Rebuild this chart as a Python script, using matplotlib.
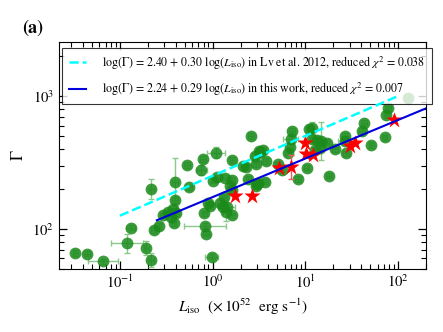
import numpy as np
import matplotlib
matplotlib.use("Agg")
import matplotlib.pyplot as plt
from matplotlib.ticker import LogLocator, NullFormatter

plt.rcParams['font.family'] = ['STIXGeneral', 'DejaVu Serif']
plt.rcParams['mathtext.fontset'] = 'stix'

# Lv et al. 2012 sample (green): L_iso [1e52 erg/s], Gamma
L_lv = [0.033, 0.044, 0.066, 0.119, 0.130, 0.193, 0.216, 0.218, 0.231, 0.261,
        0.289, 0.330, 0.373, 0.395, 0.395, 0.379, 0.355, 0.528, 0.559, 0.751,
        0.785, 0.816, 0.830, 0.851, 0.888, 0.940, 0.98, 1.08, 1.02, 1.20,
        1.29, 1.34, 1.11, 1.39, 1.63, 1.61, 1.61, 1.61, 1.36, 2.59,
        2.29, 2.43, 2.86, 2.99, 3.19, 2.14, 2.94, 3.24, 3.52, 3.73,
        2.94, 3.11, 3.67, 1.42, 5.02, 5.55, 6.93, 7.21, 6.81, 6.53,
        8.37, 10.3, 11.0, 11.7, 11.9, 13.2, 14.6, 16.9, 14.3, 12.7,
        20.8, 18.0, 26.6, 27.3, 27.0, 42.6, 40.8, 51.5, 71.6, 77.6,
        74.6, 127.0, 0.40, 1.52]
G_lv = [66, 65, 57, 78, 102, 72, 58.5, 200, 98, 105,
        127, 135, 141, 227, 165, 110, 122, 303, 206, 278,
        336, 131, 106, 92, 158, 149, 62, 375, 231, 158,
        147, 173, 245, 135, 330, 233, 196, 127, 243, 500,
        291, 237, 354, 218, 388, 298, 306, 381, 393, 324,
        210, 223, 227, 147, 306, 278, 475, 549, 416, 375,
        237, 289, 562, 572, 472, 467, 459, 446, 404, 393,
        397, 252, 500, 371, 459, 630, 548, 428, 489, 809,
        719, 971, 132, 212]
# error bars in dex
xe_lv = [0.03, 0.03, 0.16, 0.17, 0.05, 0.03, 0.03, 0.03, 0.03, 0.03,
         0.03, 0.03, 0.03, 0.03, 0.03, 0.03, 0.03, 0.03, 0.03, 0.06,
         0.03, 0.03, 0.23, 0.03, 0.03, 0.03, 0.07, 0.10, 0.03, 0.03,
         0.03, 0.03, 0.03, 0.03, 0.03, 0.03, 0.03, 0.03, 0.03, 0.03,
         0.03, 0.03, 0.03, 0.03, 0.03, 0.03, 0.03, 0.03, 0.03, 0.03,
         0.03, 0.03, 0.03, 0.09, 0.03, 0.03, 0.08, 0.03, 0.03, 0.03,
         0.03, 0.03, 0.03, 0.03, 0.03, 0.03, 0.03, 0.03, 0.03, 0.03,
         0.03, 0.03, 0.03, 0.03, 0.08, 0.03, 0.03, 0.03, 0.03, 0.03,
         0.03, 0.03, 0.03, 0.03]
ye_lv = [0.02, 0.02, 0.02, 0.07, 0.02, 0.05, 0.05, 0.075, 0.02, 0.02,
         0.02, 0.02, 0.02, 0.18, 0.02, 0.02, 0.02, 0.02, 0.02, 0.04,
         0.02, 0.02, 0.02, 0.02, 0.02, 0.02, 0.02, 0.04, 0.02, 0.02,
         0.02, 0.02, 0.02, 0.07, 0.02, 0.02, 0.02, 0.02, 0.02, 0.02,
         0.02, 0.02, 0.02, 0.02, 0.02, 0.02, 0.02, 0.02, 0.02, 0.02,
         0.02, 0.02, 0.02, 0.02, 0.02, 0.02, 0.02, 0.02, 0.02, 0.02,
         0.02, 0.02, 0.02, 0.05, 0.02, 0.02, 0.14, 0.02, 0.02, 0.02,
         0.02, 0.02, 0.02, 0.02, 0.02, 0.02, 0.02, 0.02, 0.02, 0.02,
         0.02, 0.02, 0.02, 0.02]

# this work (red stars)
L_tw = [1.72, 2.63, 5.19, 6.93, 9.88, 10.1, 12.2, 30.1, 34.1, 89.5]
G_tw = [177, 177, 286, 291, 446, 366, 360, 423, 446, 661]
ye_tw = [0.0, 0.0, 0.0, 0.09, 0.0, 0.0, 0.0, 0.0, 0.0, 0.0]

# fits: log(G) = a + b log(L), drawn between x0 and x1
fit_lv = (2.40, 0.30, 0.1, 100.0)
fit_tw = (2.24, 0.29, 0.25, 200.0)


def dex_err(v, e):
    v = np.asarray(v, float)
    e = np.asarray(e, float)
    return [v - v / 10**e, v * 10**e - v]


fig = plt.figure(figsize=(4.43, 3.32), dpi=100)
ax = fig.add_axes([0.1332, 0.1898, 0.8284, 0.6837])

ax.errorbar(L_lv, G_lv, xerr=dex_err(L_lv, xe_lv), yerr=dex_err(G_lv, ye_lv),
            fmt='none', ecolor='#8cc88c', elinewidth=1.0, capsize=2, zorder=2)
ax.plot(L_lv, G_lv, 'o', color='#1a8a1a', ms=8.5, alpha=0.85, mec='none', zorder=3)

ax.errorbar(L_tw, G_tw, yerr=dex_err(G_tw, ye_tw), fmt='none',
            ecolor='#e06060', elinewidth=1.0, capsize=2, zorder=4)
ax.plot(L_tw, G_tw, '*', color='red', ms=12, mec='none', zorder=5)

a, b, x0, x1 = fit_lv
xx = np.logspace(np.log10(x0), np.log10(x1), 50)
ax.plot(xx, 10**(a + b * np.log10(xx)), '--', color='cyan', lw=1.8, zorder=6,
        label=r'log($\Gamma$) = 2.40 + 0.30 log($L_{\rm iso}$) in Lv et al. 2012, reduced $\chi^2$ = 0.038')
a, b, x0, x1 = fit_tw
xx = np.logspace(np.log10(x0), np.log10(x1), 50)
ax.plot(xx, 10**(a + b * np.log10(xx)), '-', color='#0000dd', lw=1.5, zorder=6,
        label=r'log($\Gamma$) = 2.24 + 0.29 log($L_{\rm iso}$) in this work, reduced $\chi^2$ = 0.007')

ax.set_xscale('log')
ax.set_yscale('log')
ax.set_xlim(0.022, 200)
ax.set_ylim(50, 2550)
for axis in (ax.xaxis, ax.yaxis):
    axis.set_minor_locator(LogLocator(base=10, subs=np.arange(2, 10), numticks=20))
    axis.set_minor_formatter(NullFormatter())
ax.tick_params(which='both', direction='in', top=True, right=True, labelsize=10.5)
ax.tick_params(which='major', length=6, width=0.9)
ax.tick_params(which='minor', length=3.5, width=0.8)
ax.set_xlabel(r'$L_{\rm iso}$  ($\times\,10^{52}$  erg s$^{-1}$)', fontsize=11)
ax.set_ylabel(r'$\Gamma$', fontsize=12)

leg = ax.legend(loc='upper left', fontsize=8.6, frameon=True, fancybox=False,
                edgecolor='black', handlelength=1.5, handletextpad=1.3,
                labelspacing=0.75, borderpad=0.55, borderaxespad=0.0,
                bbox_to_anchor=(0.008, 0.975))
leg.get_frame().set_linewidth(0.8)

fig.text(0.05, 0.915, '(a)', fontsize=13, fontweight='bold', ha='left', va='center')

fig.savefig('out.png', dpi=100)
